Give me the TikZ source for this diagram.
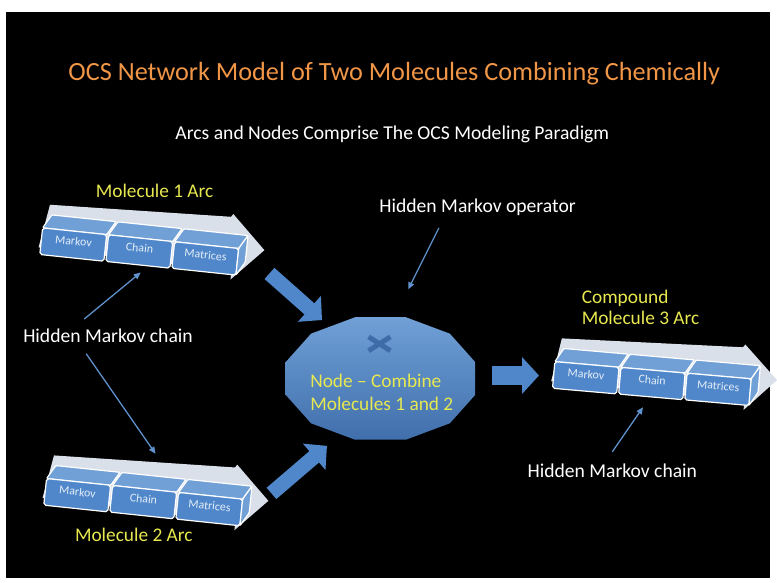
\documentclass[tikz,border=0pt]{standalone}
\usepackage{fontspec}
\setmainfont{Carlito}
\usetikzlibrary{arrows.meta,positioning,calc}

\definecolor{ocsorange}{RGB}{240,150,70}
\definecolor{ocsyellow}{RGB}{232,232,80}
\definecolor{ocsblue}{RGB}{79,135,202}
\definecolor{ocsdark}{RGB}{62,108,168}
\definecolor{ocsline}{RGB}{95,145,205}
\definecolor{ocstop}{RGB}{112,160,214}
\definecolor{ocsgray}{RGB}{218,224,234}

\tikzset{
  lbl/.style={text=white, inner sep=0pt, font=\fontsize{19.8}{23}\selectfont},
  ylbl/.style={text=ocsyellow, inner sep=0pt, font=\fontsize{19.5}{23}\selectfont},
  thinarr/.style={draw=ocsline, line width=1.3pt, -{Triangle[length=7pt,width=6pt]}},
  blockarr/.style={draw=ocsblue, line width=15pt, -{Triangle[length=17pt,width=34pt]}},
  boxfront/.style={fill=ocsblue, draw=white, line width=1.2pt, rounded corners=2pt},
  boxtop/.style={fill=ocstop, draw=white, line width=1.2pt, rounded corners=1pt},
  boxtxt/.style={text=white!85!ocsblue, font=\fontsize{12}{14}\selectfont, transform shape, inner sep=0pt},
  pics/mcarc/.style={code={
    % light arrow under the three boxes
    \fill[ocsgray] (5,-24) -- (188,-31) -- (190,-34) -- (225,-1) -- (194,32) -- (194,24) -- (-2,20) -- cycle;
    \foreach \i/\txt/\nm in {0/Markov/mk,1/Chain/ch,2/Matrices/mx}{
      \draw[boxtop] ({67*\i},0) -- ({67*\i+8},-14) -- ({67*\i+73},-14) -- ({67*\i+65},0) -- cycle;
      \draw[boxfront] ({67*\i},0) rectangle ({67*\i+65},27);
      \node[boxtxt] (-\nm) at ({67*\i+32.5},10) {\txt};
    }
    \draw[boxtop] (199,0) -- (207,-14) -- (207,13) -- (199,27) -- cycle;
  }}
}

\begin{document}
\begin{tikzpicture}[x=1pt,y=-1pt]
\fill[white] (0,0) rectangle (777,588);
\fill[black] (6,12) rectangle (777,583);

% titles
\node[text=ocsorange, inner sep=0pt, font=\fontsize{26.5}{30}\selectfont, anchor=base] (title) at (398,81) {OCS Network Model of Two Molecules Combining Chemically};
\node[lbl, anchor=base] (sub) at (396,141) {Arcs and Nodes Comprise The OCS Modeling Paradigm};

% the three arcs
\pic[rotate=-6] (arcA) at (43,230) {mcarc};
\pic[rotate=-6] (arcB) at (47,483) {mcarc};
\pic[rotate=-5] (arcC) at (560,365) {mcarc};

\node[ylbl, anchor=base] (mol1) at (156,199) {Molecule 1 Arc};
\node[ylbl, anchor=base] (mol2) at (135,547) {Molecule 2 Arc};
\node[ylbl, anchor=base west] (mol3a) at (587,306) {Compound};
\node[ylbl, anchor=base west] (mol3b) at (587,328) {Molecule 3 Arc};

% combining node
\shade[top color=ocstop, bottom color=ocsdark!90!ocsblue, shift={(384,382)}] (15:99 and 64) \foreach \a in {45,75,...,345}{ -- (\a:99 and 64)} -- cycle;
\draw[ocsdark, line width=5pt] (372,340) -- (394,354) (394,340) -- (372,354);
\node[ylbl, anchor=west, align=left] (comb) at (313,396) {Node -- Combine\\Molecules 1 and 2};

% block arrows
\coordinate (bA1) at (272,276); \coordinate (bA2) at (325,323);
\coordinate (bB1) at (274,498); \coordinate (bB2) at (330,450);
\coordinate (bC1) at (497,379); \coordinate (bC2) at (544,379);
\draw[blockarr] (bA1) -- (bA2);
\draw[blockarr] (bB1) -- (bB2);
\draw[blockarr, line width=20pt, -{Triangle[length=17pt,width=36pt]}] (bC1) -- (bC2);

% hidden Markov labels
\node[lbl, anchor=base] (hmo) at (482,214) {Hidden Markov operator};
\node[lbl, anchor=base] (hmcL) at (109,346) {Hidden Markov chain};
\node[lbl, anchor=base] (hmcR) at (618,482) {Hidden Markov chain};

\coordinate (opS) at (443,230); \coordinate (opE) at (412,292);
\coordinate (hL1) at (85,322); \coordinate (hL1e) at (142,275);
\coordinate (hL2) at (87,357); \coordinate (hL2e) at (157,458);
\coordinate (hR) at (618,456); \coordinate (hRe) at (649,411);
\draw[thinarr] (opS) -- (opE);
\draw[thinarr] (hL1) -- (hL1e);
\draw[thinarr] (hL2) -- (hL2e);
\draw[thinarr] (hR) -- (hRe);
\end{tikzpicture}
\end{document}
